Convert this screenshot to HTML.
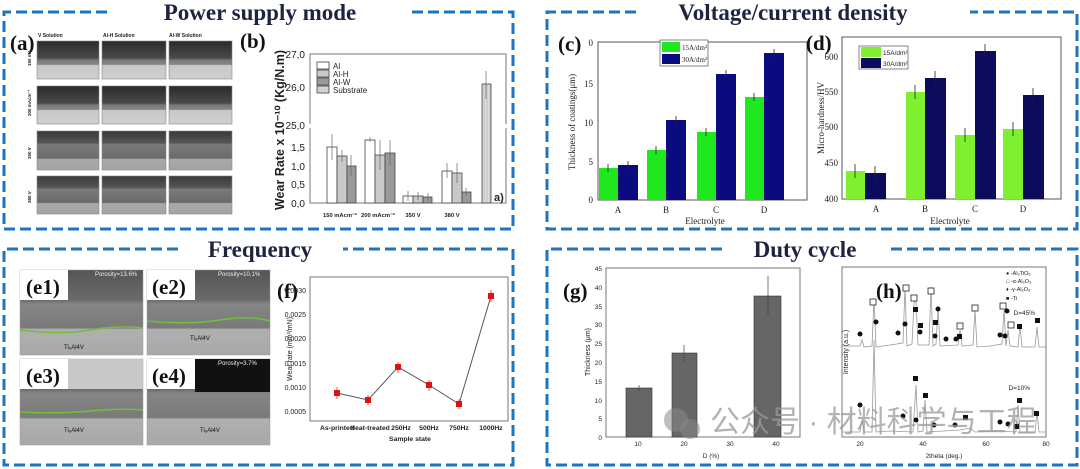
<!DOCTYPE html>
<html><head><meta charset="utf-8"><style>
html,body{margin:0;padding:0;background:#fff;width:1080px;height:469px;overflow:hidden}
svg{display:block}
.t{font-family:"Liberation Serif",serif;font-weight:bold;fill:#1e2440;font-size:23px}
.pl{font-family:"Liberation Serif",serif;font-weight:bold;fill:#111;font-size:21px}
.s{font-family:"Liberation Sans",sans-serif;fill:#222}
.r{font-family:"Liberation Serif",serif;fill:#222}
</style></head><body>
<svg width="1080" height="469" viewBox="0 0 1080 469" xmlns="http://www.w3.org/2000/svg">
<defs>
<pattern id="st" width="3" height="6" patternUnits="userSpaceOnUse"><rect width="3" height="6" fill="#dcdcdc"/><line x1="1" y1="0" x2="1" y2="6" stroke="#bbb" stroke-width="0.8"/></pattern>
<linearGradient id="sem1" x1="0" y1="0" x2="0" y2="1"><stop offset="0" stop-color="#2a2a2a"/><stop offset="0.45" stop-color="#4a4a4a"/><stop offset="0.5" stop-color="#777"/><stop offset="0.62" stop-color="#888"/><stop offset="0.64" stop-color="#c8c8c8"/><stop offset="1" stop-color="#cfcfcf"/></linearGradient>
<linearGradient id="sem2" x1="0" y1="0" x2="0" y2="1"><stop offset="0" stop-color="#3a3a3a"/><stop offset="0.3" stop-color="#555"/><stop offset="0.35" stop-color="#7a7a7a"/><stop offset="0.7" stop-color="#6a6a6a"/><stop offset="0.72" stop-color="#a9a9a9"/><stop offset="1" stop-color="#a4a4a4"/></linearGradient>
<linearGradient id="sem3" x1="0" y1="0" x2="0" y2="1"><stop offset="0" stop-color="#555"/><stop offset="0.35" stop-color="#6a6a6a"/><stop offset="0.4" stop-color="#858585"/><stop offset="0.68" stop-color="#7a7a7a"/><stop offset="0.7" stop-color="#b0b0b0"/><stop offset="1" stop-color="#a8a8a8"/></linearGradient>
</defs>
<g fill="none" stroke="#1f74c2" stroke-width="3" stroke-dasharray="11 5">
<path d="M107 12 H4 V229 H513 V12 H410"/>
<path d="M636 12 H547 V229 H1077 V12 H970"/>
<path d="M178 249 H4 V465 H513 V249 H343"/>
<path d="M722 249 H547 V465 H1077 V249 H888"/>
</g>
<text class="t" x="260" y="20" text-anchor="middle">Power supply mode</text>
<text class="t" x="793" y="20" text-anchor="middle">Voltage/current density</text>
<text class="t" x="260" y="257" text-anchor="middle">Frequency</text>
<text class="t" x="805" y="257" text-anchor="middle">Duty cycle</text>

<!-- (a) -->
<text class="pl" x="10" y="50">(a)</text>
<g class="s" font-size="5" font-weight="bold"><text x="38" y="37">V Solution</text><text x="103" y="37">Al-H Solution</text><text x="169" y="37">Al-W Solution</text></g>
<g stroke="#888" stroke-width="0.6">
<rect x="37" y="41" width="62" height="38" fill="url(#sem1)"/><rect x="102" y="41" width="64" height="38" fill="url(#sem1)"/><rect x="169" y="41" width="63" height="38" fill="url(#sem1)"/>
<rect x="37" y="86" width="62" height="38" fill="url(#sem1)"/><rect x="102" y="86" width="64" height="38" fill="url(#sem1)"/><rect x="169" y="86" width="63" height="38" fill="url(#sem1)"/>
<rect x="37" y="131" width="62" height="39" fill="url(#sem2)"/><rect x="102" y="131" width="64" height="39" fill="url(#sem2)"/><rect x="169" y="131" width="63" height="39" fill="url(#sem2)"/>
<rect x="37" y="176" width="62" height="38" fill="url(#sem2)"/><rect x="102" y="176" width="64" height="38" fill="url(#sem2)"/><rect x="169" y="176" width="63" height="38" fill="url(#sem2)"/>
</g>
<g class="s" font-size="4.5" font-weight="bold"><text transform="translate(31,66) rotate(-90)">150 mA</text><text transform="translate(31,116) rotate(-90)">200 mAcm⁻²</text><text transform="translate(31,159) rotate(-90)">350 V</text><text transform="translate(31,203) rotate(-90)">380 V</text></g>

<!-- (b) -->
<text class="pl" x="240" y="48">(b)</text>
<rect x="310" y="54" width="196" height="149" fill="none" stroke="#777"/>
<line x1="306" y1="126" x2="316" y2="126" stroke="#fff" stroke-width="4"/><line x1="500" y1="126" x2="510" y2="126" stroke="#fff" stroke-width="4"/>
<g class="s" font-size="10" text-anchor="end"><text x="305" y="58">27,0</text><text x="305" y="91">26,0</text><text x="305" y="129">25,0</text><text x="305" y="151">1,5</text><text x="305" y="170">1,0</text><text x="305" y="188">0,5</text><text x="305" y="207">0,0</text></g>
<text class="s" font-size="12.5" font-weight="bold" transform="translate(284,130) rotate(-90)" text-anchor="middle">Wear Rate x 10⁻¹⁰ (Kg/N.m)</text>
<g stroke="#444" stroke-width="0.8">
<rect x="327" y="147" width="10" height="56" fill="#fff"/><rect x="337" y="156" width="10" height="47" fill="#c9c9c9"/><rect x="347" y="166" width="9" height="37" fill="#999"/>
<rect x="365" y="140" width="10" height="63" fill="#fff"/><rect x="375" y="155" width="10" height="48" fill="#c9c9c9"/><rect x="385" y="153" width="10" height="50" fill="#999"/>
<rect x="403" y="196" width="10" height="7" fill="#fff"/><rect x="413" y="196" width="10" height="7" fill="#c9c9c9"/><rect x="423" y="197" width="9" height="6" fill="#999"/>
<rect x="442" y="171" width="10" height="32" fill="#fff"/><rect x="452" y="173" width="10" height="30" fill="#c9c9c9"/><rect x="462" y="192" width="9" height="11" fill="#999"/>
<rect x="482" y="84" width="9" height="119" fill="url(#st)"/>
</g>
<g stroke="#666" stroke-width="0.7" fill="none"><path d="M332 134V160M342 150V162M351 155V176M370 137V142M380 140V170M390 140V166M408 191V201M418 192V200M428 193V201M447 163V178M457 163V183M466 188V196M486 71V99"/></g>
<g stroke="#555" stroke-width="0.9" fill="#fff"><rect x="317" y="62" width="12" height="7"/><rect x="317" y="70" width="12" height="7" fill="#c9c9c9"/><rect x="317" y="78" width="12" height="7" fill="#999"/><rect x="317" y="86" width="12" height="7" fill="url(#st)"/></g>
<g class="s" font-size="8"><text x="333" y="69">Al</text><text x="333" y="77">Al-H</text><text x="333" y="85">Al-W</text><text x="333" y="93">Substrate</text></g>
<text class="s" font-size="11" font-weight="bold" x="494" y="201">a)</text>
<g class="s" font-size="5.8" font-weight="bold" text-anchor="middle"><text x="340" y="217">150 mAcm⁻²</text><text x="378" y="217">200 mAcm⁻²</text><text x="413" y="217">350 V</text><text x="452" y="217">380 V</text></g>

<!-- (c) -->
<text class="pl" x="558" y="51">(c)</text>
<rect x="598" y="42" width="209" height="158" fill="none" stroke="#555"/>
<g class="r" font-size="9" text-anchor="end"><text x="593" y="46">0</text><text x="593" y="87">15</text><text x="593" y="126">10</text><text x="593" y="165">5</text><text x="593" y="203">0</text></g>
<text class="r" font-size="9" transform="translate(575,122) rotate(-90)" text-anchor="middle">Thickness of coatings(μm)</text>
<g fill="#1fe81f"><rect x="599" y="168" width="19" height="32"/><rect x="647" y="150" width="19" height="50"/><rect x="697" y="132" width="19" height="68"/><rect x="745" y="97" width="19" height="103"/></g>
<g fill="#0b0b80"><rect x="618" y="165" width="20" height="35"/><rect x="666" y="120" width="20" height="80"/><rect x="716" y="74" width="20" height="126"/><rect x="764" y="53" width="20" height="147"/></g>
<g stroke="#222" stroke-width="0.8"><path d="M608 164V172M628 161V169M656 146V154M676 116V124M706 128V136M726 70V78M754 93V101M774 49V57"/></g>
<rect x="660" y="40" width="48" height="26" fill="#fff" stroke="#555" stroke-width="0.7"/>
<rect x="662" y="42" width="18" height="10" fill="#1fe81f"/><rect x="662" y="54" width="18" height="10" fill="#0b0b80"/>
<g class="r" font-size="7"><text x="682" y="50">15A/dm²</text><text x="682" y="62">30A/dm²</text></g>
<g class="r" font-size="9" text-anchor="middle"><text x="618" y="213">A</text><text x="666" y="213">B</text><text x="716" y="213">C</text><text x="764" y="213">D</text><text x="705" y="224">Electrolyte</text></g>

<!-- (d) -->
<text class="pl" x="806" y="50">(d)</text>
<rect x="842" y="37" width="219" height="162" fill="none" stroke="#555"/>
<g class="r" font-size="9" text-anchor="end"><text x="838" y="60">600</text><text x="838" y="95">550</text><text x="838" y="130">500</text><text x="838" y="166">450</text><text x="838" y="202">400</text></g>
<text class="r" font-size="9" transform="translate(824,118) rotate(-90)" text-anchor="middle">Micro-hardness/HV</text>
<g fill="#7ff030"><rect x="846" y="171" width="19" height="28"/><rect x="906" y="92" width="19" height="107"/><rect x="955" y="135" width="20" height="64"/><rect x="1003" y="129" width="20" height="70"/></g>
<g fill="#0d0b5e"><rect x="865" y="173" width="21" height="26"/><rect x="925" y="78" width="21" height="121"/><rect x="975" y="51" width="21" height="148"/><rect x="1023" y="95" width="21" height="104"/></g>
<g stroke="#222" stroke-width="0.8"><path d="M855 164V178M875 166V180M915 85V99M935 71V85M965 128V142M985 44V58M1013 122V136M1033 88V102"/></g>
<rect x="859" y="46" width="49" height="23" fill="#fff" stroke="#555" stroke-width="0.7"/>
<rect x="861" y="47" width="20" height="10" fill="#7ff030"/><rect x="861" y="58" width="20" height="10" fill="#0d0b5e"/>
<g class="s" font-size="6.5"><text x="883" y="55">15A/dm²</text><text x="883" y="66">30A/dm²</text></g>
<g class="r" font-size="9" text-anchor="middle"><text x="876" y="212">A</text><text x="925" y="212">B</text><text x="975" y="212">C</text><text x="1023" y="212">D</text><text x="950" y="224">Electrolyte</text></g>

<!-- (e) -->
<g stroke="#999" stroke-width="0.5">
<rect x="20" y="270" width="123" height="85" fill="url(#sem3)"/><rect x="147" y="270" width="123" height="85" fill="url(#sem3)"/>
<rect x="20" y="359" width="123" height="86" fill="url(#sem3)"/><rect x="147" y="359" width="123" height="86" fill="url(#sem3)"/>
</g>
<rect x="195" y="359" width="75" height="33" fill="#111"/>
<rect x="68" y="359" width="75" height="30" fill="#c8c8c8"/>
<g stroke="#6fc03a" stroke-width="1.5" fill="none"><path d="M20 330 Q60 335 90 330 T143 328"/><path d="M147 321 Q190 325 220 320 T270 321"/><path d="M20 412 Q60 414 90 411 T143 410"/></g>
<g fill="#fff"><rect x="20" y="270" width="48" height="30"/><rect x="147" y="270" width="48" height="30"/><rect x="20" y="359" width="48" height="30"/><rect x="147" y="359" width="48" height="30"/></g>
<g class="pl" font-size="21"><text x="26" y="294">(e1)</text><text x="152" y="294">(e2)</text><text x="26" y="383">(e3)</text><text x="152" y="383">(e4)</text></g>
<g class="s" font-size="6"><text x="95" y="276" fill="#eee">Porosity=13.6%</text><text x="218" y="276" fill="#eee">Porosity=10.1%</text><text x="218" y="365" fill="#eee">Porosity=3.7%</text><text x="64" y="349" fill="#111">Ti₆Al4V</text><text x="190" y="340" fill="#111">Ti₆Al4V</text><text x="64" y="432" fill="#111">Ti₆Al4V</text><text x="200" y="432" fill="#111">Ti₆Al4V</text></g>

<!-- (f) -->
<text class="pl" x="277" y="298">(f)</text>
<rect x="310" y="277" width="198" height="144" fill="none" stroke="#777"/>
<g class="s" font-size="7" text-anchor="end"><text x="306" y="293">0.0030</text><text x="306" y="317">0.0025</text><text x="306" y="341">0.0020</text><text x="306" y="366">0.0015</text><text x="306" y="390">0.0010</text><text x="306" y="414">0.0005</text></g>
<text class="s" font-size="7" transform="translate(292,349) rotate(-90)" text-anchor="middle">Wear rate (mm³/mN)</text>
<polyline points="337,393 368,400 398,367 429,385 459,404 491,296" fill="none" stroke="#555" stroke-width="1"/>
<g stroke="#e22" stroke-width="0.8"><path d="M337 387V399M368 395V405M398 362V373M429 380V391M459 399V409M491 290V302"/></g>
<g fill="#e01010"><rect x="334" y="390" width="6" height="6"/><rect x="365" y="397" width="6" height="6"/><rect x="395" y="364" width="6" height="6"/><rect x="426" y="382" width="6" height="6"/><rect x="456" y="401" width="6" height="6"/><rect x="488" y="293" width="6" height="6"/></g>
<g class="s" font-size="6.8" font-weight="bold" text-anchor="middle"><text x="337" y="430">As-printed</text><text x="370" y="430">Heat-treated</text><text x="401" y="430">250Hz</text><text x="429" y="430">500Hz</text><text x="459" y="430">750Hz</text><text x="491" y="430">1000Hz</text><text x="410" y="441">Sample state</text></g>

<!-- (g) -->
<text class="pl" x="563" y="298">(g)</text>
<rect x="606" y="268" width="194" height="169" fill="none" stroke="#777"/>
<g class="s" font-size="6.5" text-anchor="end" fill="#444"><text x="602" y="271">45</text><text x="602" y="290">40</text><text x="602" y="309">35</text><text x="602" y="327">30</text><text x="602" y="346">25</text><text x="602" y="365">20</text><text x="602" y="384">15</text><text x="602" y="403">10</text><text x="602" y="421">5</text><text x="602" y="440">0</text></g>
<text class="s" font-size="7" transform="translate(590,352) rotate(-90)" text-anchor="middle">Thickness (μm)</text>
<g fill="#666" stroke="#333" stroke-width="0.6"><rect x="626" y="388" width="26" height="49"/><rect x="672" y="353" width="25" height="84"/><rect x="754" y="296" width="27" height="141"/></g>
<g stroke="#444" stroke-width="0.7"><path d="M639 385V391M684 345V362M768 276V315"/></g>
<g class="s" font-size="6.5" text-anchor="middle" fill="#444"><text x="638" y="446">10</text><text x="684" y="446">20</text><text x="730" y="446">30</text><text x="776" y="446">40</text><text x="711" y="458">D (%)</text></g>

<!-- (h) -->
<text class="pl" x="876" y="298">(h)</text>
<rect x="842" y="267" width="204" height="170" fill="none" stroke="#777"/>
<text class="s" font-size="7" transform="translate(848,352) rotate(-90)" text-anchor="middle">Intensity (a.u.)</text>
<polyline fill="none" stroke="#999" stroke-width="0.8" points="842,346 860,346 862,340 864,347 872,346 874,299 876,347 890,345 903,343 905,287 907,346 912,344 914,303 916,300 918,345 929,345 931,287 933,346 936,344 938,308 940,346 958,345 960,330 962,346 973,345 975,310 977,347 990,346 1002,344 1004,310 1006,346 1008,330 1010,346 1018,347 1020,325 1022,347 1035,347 1037,327 1039,347 1046,347"/>
<polyline fill="none" stroke="#999" stroke-width="0.8" points="842,432 860,432 862,420 864,432 872,432 874,340 876,432 890,431 913,432 916,385 918,432 923,431 925,400 927,432 960,430 970,428 975,432 998,431 1016,432 1018,405 1020,432 1035,432 1037,412 1039,432 1046,432"/>
<g class="s" font-size="6.5"><text x="1035" y="315" text-anchor="end">D=45%</text><text x="1030" y="390" text-anchor="end">D=10%</text></g>
<g class="s" font-size="5.5"><text x="1006" y="275">● -Al₂TiO₅</text><text x="1006" y="283">□ -α-Al₂O₃</text><text x="1006" y="291">♦ -γ-Al₂O₃</text><text x="1006" y="300">■ -Ti</text></g>
<g fill="#fff" stroke="#222" stroke-width="0.8"><rect x="870" y="299" width="6" height="6"/><rect x="903" y="285" width="6" height="6"/><rect x="911" y="295" width="6" height="6"/><rect x="928" y="288" width="6" height="6"/><rect x="972" y="305" width="6" height="6"/><rect x="1000" y="303" width="6" height="6"/><rect x="1008" y="322" width="6" height="6"/><rect x="957" y="323" width="6" height="6"/></g>
<g fill="#111"><circle cx="860" cy="334" r="2.5"/><circle cx="876" cy="322" r="2.5"/><circle cx="898" cy="333" r="2.5"/><circle cx="905" cy="324" r="2.5"/><circle cx="920" cy="332" r="2.5"/><circle cx="935" cy="336" r="2.5"/><circle cx="938" cy="309" r="2.5"/><circle cx="946" cy="339" r="2.5"/><circle cx="956" cy="339" r="2.5"/><circle cx="1000" cy="335" r="2.5"/><circle cx="1005" cy="336" r="2.5"/><circle cx="1007" cy="311" r="2.5"/><circle cx="860" cy="405" r="2.5"/><circle cx="903" cy="416" r="2.5"/><circle cx="916" cy="420" r="2.5"/><circle cx="934" cy="425" r="2.5"/><circle cx="955" cy="425" r="2.5"/><circle cx="1000" cy="422" r="2.5"/><circle cx="1008" cy="424" r="2.5"/></g>
<g fill="#111"><rect x="913" y="307" width="5" height="5"/><rect x="918" y="323" width="5" height="5"/><rect x="933" y="320" width="5" height="5"/><rect x="957" y="334" width="5" height="5"/><rect x="1017" y="324" width="5" height="5"/><rect x="1035" y="318" width="5" height="5"/><rect x="913" y="376" width="5" height="5"/><rect x="923" y="393" width="5" height="5"/><rect x="963" y="415" width="5" height="5"/><rect x="1017" y="398" width="5" height="5"/><rect x="1034" y="411" width="5" height="5"/><rect x="1014" y="424" width="5" height="5"/></g>
<g class="s" font-size="6.5" text-anchor="middle" fill="#444"><text x="860" y="446">20</text><text x="923" y="446">40</text><text x="986" y="446">60</text><text x="1046" y="446">80</text><text x="944" y="458">2theta (deg.)</text></g>

<!-- watermark -->
<circle cx="676" cy="420" r="12" fill="#888" opacity="0.55"/><circle cx="690" cy="429" r="10" fill="#888" opacity="0.55"/>
<text x="710" y="432" font-family="'Liberation Sans','Noto Sans CJK SC',sans-serif" font-size="30" fill="#999" opacity="0.75">公众号 · 材料科学与工程</text>
</svg>
</body></html>
